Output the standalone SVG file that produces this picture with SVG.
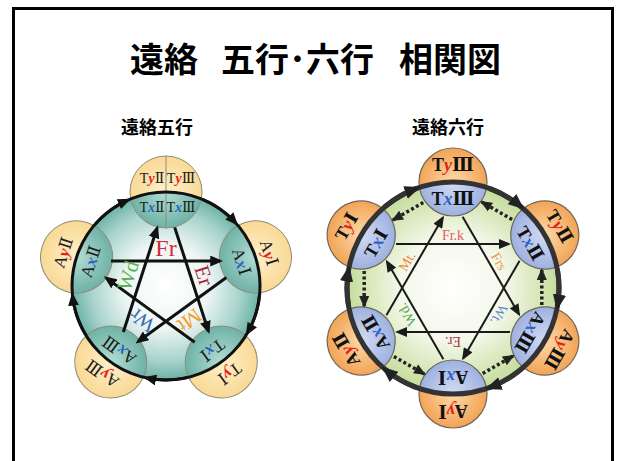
<svg xmlns="http://www.w3.org/2000/svg" width="622" height="461" viewBox="0 0 622 461">
<style>
.title{font-family:"Noto Sans CJK JP","Noto Sans CJK SC",sans-serif;font-weight:bold;font-size:34px;fill:#000}
.sub{font-family:"Noto Sans CJK JP","Noto Sans CJK SC",sans-serif;font-weight:bold;font-size:18px;fill:#000;text-anchor:middle}
.lt{font-family:"Liberation Serif","DejaVu Serif",serif;font-size:17px;fill:#1a1a1a;text-anchor:middle;dominant-baseline:central}
.lts{font-family:"Liberation Serif","DejaVu Serif",serif;font-size:14px;fill:#1a1a1a;text-anchor:middle;dominant-baseline:central}
.rt{font-family:"Liberation Serif","DejaVu Serif",serif;font-size:18px;font-weight:bold;fill:#111;text-anchor:middle;dominant-baseline:central}
.xv{fill:#2f62c0;font-style:italic;font-weight:bold}
.yv{fill:#e0241c;font-style:italic;font-weight:bold}
.ol{fill:none;stroke:#8f8a7a;stroke-width:1}
.olR{fill:none;stroke:#6f6658;stroke-width:1.2}
.pl{font-family:"Liberation Serif","DejaVu Serif",serif;font-size:21px;text-anchor:middle;dominant-baseline:central}
.hl{font-family:"Liberation Serif","DejaVu Serif",serif;font-size:14px;text-anchor:middle;dominant-baseline:central}
.pline{fill:none;stroke:#111;stroke-width:3;marker-end:url(#ahP)}
.lring{fill:none;stroke:#111;stroke-width:3;marker-end:url(#ahP)}
.hline{fill:none;stroke:#1a1a1a;stroke-width:2;marker-end:url(#ahH)}
.rring{fill:none;stroke:#333;stroke-width:5;marker-end:url(#ahR)}
.dline{fill:none;stroke:#222;stroke-width:3.5;stroke-dasharray:3 2.5;marker-end:url(#ahD)}
</style>
<defs>
<radialGradient id="bgL" cx="166" cy="286" r="94" gradientUnits="userSpaceOnUse">
<stop offset="0" stop-color="#ffffff"/>
<stop offset="0.45" stop-color="#eef6f4"/>
<stop offset="0.8" stop-color="#a6d3cb"/>
<stop offset="1" stop-color="#6cb2a6"/>
</radialGradient>
<radialGradient id="bgR" cx="453" cy="288" r="106" gradientUnits="userSpaceOnUse">
<stop offset="0" stop-color="#ffffff"/>
<stop offset="0.5" stop-color="#f4f8ea"/>
<stop offset="1" stop-color="#c4dc9a"/>
</radialGradient>
<radialGradient id="yel"><stop offset="0" stop-color="#fff0cc"/><stop offset="1" stop-color="#f9d994"/></radialGradient>
<radialGradient id="teal"><stop offset="0" stop-color="#b2ddd4"/><stop offset="1" stop-color="#6fb2a6"/></radialGradient>
<radialGradient id="org"><stop offset="0" stop-color="#fdd9a8"/><stop offset="1" stop-color="#f2a456"/></radialGradient>
<radialGradient id="blu"><stop offset="0" stop-color="#d3dcf4"/><stop offset="1" stop-color="#9db1e0"/></radialGradient>
<clipPath id="clipL"><circle cx="166" cy="286" r="94"/></clipPath>
<clipPath id="clipR"><circle cx="453" cy="288" r="106"/></clipPath>
<marker id="ahP" viewBox="0 0 12 10" refX="9" refY="5" markerWidth="13" markerHeight="11" markerUnits="userSpaceOnUse" orient="auto"><path d="M0,0 L12,5 L0,10 Z" fill="#111"/></marker>
<marker id="ahH" viewBox="0 0 12 10" refX="10" refY="5" markerWidth="13" markerHeight="10" markerUnits="userSpaceOnUse" orient="auto"><path d="M0,0 L12,5 L0,10 Z" fill="#1a1a1a"/></marker>
<marker id="ahR" viewBox="0 0 12 10" refX="9" refY="5" markerWidth="16" markerHeight="14" markerUnits="userSpaceOnUse" orient="auto"><path d="M0,0 L12,5 L0,10 Z" fill="#222"/></marker>
<marker id="ahD" viewBox="0 0 12 10" refX="10" refY="5" markerWidth="12" markerHeight="11" markerUnits="userSpaceOnUse" orient="auto"><path d="M0,0 L12,5 L0,10 Z" fill="#222"/></marker>
</defs>

<rect x="13.5" y="8.5" width="599" height="470" fill="#fff" stroke="#000" stroke-width="3"/>

<g id="titles">
<text class="title" x="130" y="72">遠絡</text>
<text class="title" x="221" y="72">五行･六行</text>
<text class="title" x="399" y="72">相関図</text>
<text class="sub" x="157" y="134">遠絡五行</text>
<text class="sub" x="448" y="134">遠絡六行</text>
</g>

<!-- LEFT: five elements -->
<g id="left-diagram">
<circle cx="166" cy="286" r="94" fill="url(#bgL)"/>

<g id="L-node-T23">
<circle cx="166" cy="192" r="36" fill="url(#yel)"/>
<circle cx="166" cy="192" r="36" fill="url(#teal)" clip-path="url(#clipL)"/>
<line x1="166" y1="156" x2="166" y2="228" stroke="#8f8a7a" stroke-width="1"/>
<circle cx="166" cy="192" r="36" class="ol"/>
<text class="lts" x="152" y="178">T<tspan class="yv">y</tspan>Ⅱ</text>
<text class="lts" x="181" y="178">T<tspan class="yv">y</tspan>Ⅲ</text>
<text class="lts" x="152" y="207">T<tspan class="xv">x</tspan>Ⅱ</text>
<text class="lts" x="181" y="207">T<tspan class="xv">x</tspan>Ⅲ</text>
</g>
<g id="L-node-A1" transform="rotate(72 166 286)">
<circle cx="166" cy="192" r="36" fill="url(#yel)"/>
<circle cx="166" cy="192" r="36" fill="url(#teal)" clip-path="url(#clipL)"/>
<circle cx="166" cy="192" r="36" class="ol"/>
<text class="lt" x="166" y="178">A<tspan class="yv">y</tspan>Ⅰ</text>
<text class="lt" x="166" y="207">A<tspan class="xv">x</tspan>Ⅰ</text>
</g>
<g id="L-node-T1" transform="rotate(144 166 286)">
<circle cx="166" cy="192" r="36" fill="url(#yel)"/>
<circle cx="166" cy="192" r="36" fill="url(#teal)" clip-path="url(#clipL)"/>
<circle cx="166" cy="192" r="36" class="ol"/>
<text class="lt" x="166" y="178">T<tspan class="yv">y</tspan>Ⅰ</text>
<text class="lt" x="166" y="207">T<tspan class="xv">x</tspan>Ⅰ</text>
</g>
<g id="L-node-A3" transform="rotate(216 166 286)">
<circle cx="166" cy="192" r="36" fill="url(#yel)"/>
<circle cx="166" cy="192" r="36" fill="url(#teal)" clip-path="url(#clipL)"/>
<circle cx="166" cy="192" r="36" class="ol"/>
<text class="lt" x="166" y="178">A<tspan class="yv">y</tspan>Ⅲ</text>
<text class="lt" x="166" y="207">A<tspan class="xv">x</tspan>Ⅲ</text>
</g>
<g id="L-node-A2" transform="rotate(288 166 286)">
<circle cx="166" cy="192" r="36" fill="url(#yel)"/>
<circle cx="166" cy="192" r="36" fill="url(#teal)" clip-path="url(#clipL)"/>
<circle cx="166" cy="192" r="36" class="ol"/>
<text class="lt" x="166" y="178">A<tspan class="yv">y</tspan>Ⅱ</text>
<text class="lt" x="166" y="207">A<tspan class="xv">x</tspan>Ⅱ</text>
</g>

<g id="L-connectors">
<circle cx="166" cy="286" r="94" fill="none" stroke="#111" stroke-width="3"/>
<path class="lring" d="M202.73,199.47 A94,94 0 0 1 235.85,223.10"/>
<path class="lring" d="M202.73,199.47 A94,94 0 0 1 235.85,223.10" transform="rotate(72 166 286)"/>
<path class="lring" d="M202.73,199.47 A94,94 0 0 1 235.85,223.10" transform="rotate(144 166 286)"/>
<path class="lring" d="M202.73,199.47 A94,94 0 0 1 235.85,223.10" transform="rotate(216 166 286)"/>
<path class="lring" d="M202.73,199.47 A94,94 0 0 1 235.85,223.10" transform="rotate(288 166 286)"/>
<path class="pline" d="M111,261 L220,261"/>
<path class="pline" d="M111,261 L220,261" transform="rotate(72 166 288)"/>
<path class="pline" d="M111,261 L220,261" transform="rotate(144 166 288)"/>
<path class="pline" d="M111,261 L220,261" transform="rotate(216 166 288)"/>
<path class="pline" d="M111,261 L220,261" transform="rotate(288 166 288)"/>
</g>
<g id="L-labels">
<text class="pl" x="166" y="248" fill="#d42a3c" style="font-size:24px">Fr</text>
<text class="pl" x="166" y="248" fill="#a8243c" transform="rotate(72 166 288)">Er</text>
<text class="pl" x="166" y="248" fill="#f0a030" transform="rotate(144 166 288)">Mt</text>
<text class="pl" x="166" y="248" fill="#3a6cb8" transform="rotate(216 166 288)">Wr</text>
<text class="pl" x="166" y="248" fill="#58b04c" transform="rotate(288 166 288)">Wd</text>
</g>
</g>

<!-- RIGHT: six elements -->
<g id="right-diagram">
<circle cx="453" cy="288" r="106" fill="url(#bgR)"/>

<g id="R-node-T3">
<circle cx="453" cy="182" r="34" fill="url(#org)"/>
<circle cx="453" cy="182" r="34" fill="url(#blu)" clip-path="url(#clipR)"/>
<circle cx="453" cy="182" r="34" class="olR"/>
<text class="rt" x="453" y="165">T<tspan class="yv">y</tspan>Ⅲ</text>
<text class="rt" x="453" y="199">T<tspan class="xv">x</tspan>Ⅲ</text>
</g>
<g id="R-node-T2" transform="rotate(60 453 288)">
<circle cx="453" cy="182" r="34" fill="url(#org)"/>
<circle cx="453" cy="182" r="34" fill="url(#blu)" clip-path="url(#clipR)"/>
<circle cx="453" cy="182" r="34" class="olR"/>
<text class="rt" x="453" y="165">T<tspan class="yv">y</tspan>Ⅱ</text>
<text class="rt" x="453" y="199">T<tspan class="xv">x</tspan>Ⅱ</text>
</g>
<g id="R-node-A3" transform="rotate(120 453 288)">
<circle cx="453" cy="182" r="34" fill="url(#org)"/>
<circle cx="453" cy="182" r="34" fill="url(#blu)" clip-path="url(#clipR)"/>
<circle cx="453" cy="182" r="34" class="olR"/>
<text class="rt" x="453" y="165">A<tspan class="yv">y</tspan>Ⅲ</text>
<text class="rt" x="453" y="199">A<tspan class="xv">x</tspan>Ⅲ</text>
</g>
<g id="R-node-A1" transform="rotate(180 453 288)">
<circle cx="453" cy="182" r="34" fill="url(#org)"/>
<circle cx="453" cy="182" r="34" fill="url(#blu)" clip-path="url(#clipR)"/>
<circle cx="453" cy="182" r="34" class="olR"/>
<text class="rt" x="453" y="165">A<tspan class="yv">y</tspan>Ⅰ</text>
<text class="rt" x="453" y="199">A<tspan class="xv">x</tspan>Ⅰ</text>
</g>
<g id="R-node-A2" transform="rotate(240 453 288)">
<circle cx="453" cy="182" r="34" fill="url(#org)"/>
<circle cx="453" cy="182" r="34" fill="url(#blu)" clip-path="url(#clipR)"/>
<circle cx="453" cy="182" r="34" class="olR"/>
<text class="rt" x="453" y="165">A<tspan class="yv">y</tspan>Ⅱ</text>
<text class="rt" x="453" y="199">A<tspan class="xv">x</tspan>Ⅱ</text>
</g>
<g id="R-node-T1" transform="rotate(300 453 288)">
<circle cx="453" cy="182" r="34" fill="url(#org)"/>
<circle cx="453" cy="182" r="34" fill="url(#blu)" clip-path="url(#clipR)"/>
<circle cx="453" cy="182" r="34" class="olR"/>
<text class="rt" x="453" y="165">T<tspan class="yv">y</tspan>Ⅰ</text>
<text class="rt" x="453" y="199">T<tspan class="xv">x</tspan>Ⅰ</text>
</g>

<g id="R-connectors">
<circle cx="453" cy="288" r="106" fill="none" stroke="#333" stroke-width="5"/>
<path class="rring" d="M489.25,188.39 A106,106 0 0 1 521.14,206.80"/>
<path class="rring" d="M489.25,188.39 A106,106 0 0 1 521.14,206.80" transform="rotate(60 453 288)"/>
<path class="rring" d="M489.25,188.39 A106,106 0 0 1 521.14,206.80" transform="rotate(120 453 288)"/>
<path class="rring" d="M489.25,188.39 A106,106 0 0 1 521.14,206.80" transform="rotate(180 453 288)"/>
<path class="rring" d="M489.25,188.39 A106,106 0 0 1 521.14,206.80" transform="rotate(240 453 288)"/>
<path class="rring" d="M489.25,188.39 A106,106 0 0 1 521.14,206.80" transform="rotate(300 453 288)"/>
<path class="dline" d="M423.3,202.6 L393.0,220.1"/>
<path class="dline" d="M423.3,202.6 L393.0,220.1" transform="rotate(-60 453 288)"/>
<path class="dline" d="M423.3,202.6 L393.0,220.1" transform="rotate(-120 453 288)"/>
<path class="dline" d="M423.3,202.6 L393.0,220.1" transform="rotate(-180 453 288)"/>
<path class="dline" d="M423.3,202.6 L393.0,220.1" transform="rotate(-240 453 288)"/>
<path class="dline" d="M423.3,202.6 L393.0,220.1" transform="rotate(-300 453 288)"/>
<path class="hline" d="M396,244 L509,244"/>
<path class="hline" d="M396,244 L509,244" transform="rotate(60 453 288)"/>
<path class="hline" d="M396,244 L509,244" transform="rotate(120 453 288)"/>
<path class="hline" d="M396,244 L509,244" transform="rotate(180 453 288)"/>
<path class="hline" d="M396,244 L509,244" transform="rotate(240 453 288)"/>
<path class="hline" d="M396,244 L509,244" transform="rotate(300 453 288)"/>
</g>
<g id="R-labels">
<text class="hl" x="453" y="235" fill="#e45a5a">Fr.k</text>
<text class="hl" x="453" y="235" fill="#ec9a48" transform="rotate(60 453 288)">Frs</text>
<text class="hl" x="453" y="235" fill="#5b86c8" transform="rotate(120 453 288)">Wt.</text>
<text class="hl" x="453" y="235" fill="#a83848" transform="rotate(180 453 288)">Er.</text>
<text class="hl" x="453" y="235" fill="#4ea84e" transform="rotate(240 453 288)">Wd.</text>
<text class="hl" x="453" y="235" fill="#e88a34" transform="rotate(300 453 288)">Mt.</text>
</g>
</g>
</svg>
